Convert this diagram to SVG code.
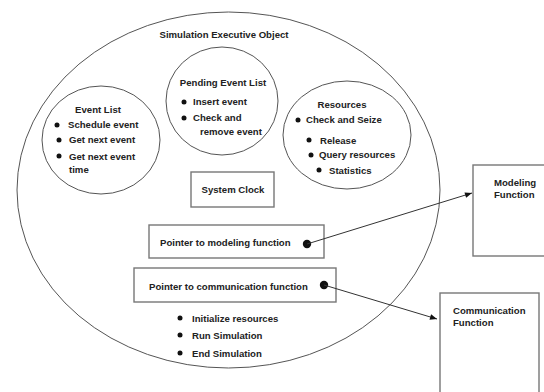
<svg xmlns="http://www.w3.org/2000/svg" width="544" height="392" viewBox="0 0 544 392">
<defs>
<style>
text{font-family:"Liberation Sans",Arial,sans-serif;font-size:9.6px;font-weight:bold;fill:#222}
.c{text-anchor:middle}
.sh{fill:none;stroke:#555;stroke-width:1}
.bx{fill:#fff;stroke:#777;stroke-width:1.4}
.dot{fill:#111}
.ln{stroke:#333;stroke-width:1;fill:none}
</style>
<marker id="ah" viewBox="0 0 10 10" refX="10" refY="5" markerWidth="9" markerHeight="7" markerUnits="userSpaceOnUse" orient="auto">
<path d="M0,1 L10,5 L0,9 z" fill="#111"/>
</marker>
</defs>
<rect width="544" height="392" fill="#fff"/>
<g id="sim-exec">
<ellipse class="sh" cx="228.5" cy="190" rx="211.5" ry="178"/>
<text class="c" x="224" y="38">Simulation Executive Object</text>
</g>
<g id="event-list">
<ellipse class="sh" cx="101" cy="140" rx="59" ry="54"/>
<text class="c" x="98" y="113">Event List</text>
<circle class="dot" cx="57" cy="125" r="2.5"/><text x="68" y="128">Schedule event</text>
<circle class="dot" cx="59" cy="140" r="2.5"/><text x="69" y="143">Get next event</text>
<circle class="dot" cx="59" cy="156" r="2.5"/><text x="69" y="160">Get next event</text>
<text x="69" y="173">time</text>
</g>
<g id="pending-event-list">
<ellipse class="sh" cx="222" cy="101" rx="56" ry="54"/>
<text class="c" x="223" y="86">Pending Event List</text>
<circle class="dot" cx="184" cy="102" r="2.5"/><text x="193" y="105">Insert event</text>
<circle class="dot" cx="184" cy="118" r="2.5"/><text x="193" y="121">Check and</text>
<text x="200" y="135">remove event</text>
</g>
<g id="resources">
<ellipse class="sh" cx="347" cy="135" rx="64" ry="54"/>
<text class="c" x="342" y="108">Resources</text>
<circle class="dot" cx="298" cy="120" r="2.5"/><text x="306" y="123">Check and Seize</text>
<circle class="dot" cx="309" cy="140" r="2.5"/><text x="320" y="144">Release</text>
<circle class="dot" cx="311" cy="155" r="2.5"/><text x="319" y="158">Query resources</text>
<circle class="dot" cx="319" cy="170" r="2.5"/><text x="329" y="174">Statistics</text>
</g>
<g id="system-clock">
<rect class="bx" x="191" y="172" width="83" height="35"/>
<text class="c" x="233" y="193">System Clock</text>
</g>
<g id="ptr-modeling">
<rect class="bx" x="149" y="225" width="175" height="33"/>
<text x="160" y="246">Pointer to modeling function</text>
<circle class="dot" cx="307" cy="244" r="4.2"/>
</g>
<g id="ptr-communication">
<rect class="bx" x="134" y="268" width="202" height="34"/>
<text x="149" y="290">Pointer to communication function</text>
<circle class="dot" cx="324" cy="285" r="4.2"/>
</g>
<g id="actions">
<circle class="dot" cx="180" cy="318" r="2.5"/><text x="192" y="322">Initialize resources</text>
<circle class="dot" cx="180" cy="335" r="2.5"/><text x="192" y="339">Run Simulation</text>
<circle class="dot" cx="180" cy="353" r="2.5"/><text x="192" y="357">End Simulation</text>
</g>
<g id="modeling-function">
<rect class="bx" x="473" y="165" width="80" height="91"/>
<text x="494" y="186">Modeling</text>
<text x="494" y="198">Function</text>
</g>
<g id="communication-function">
<rect class="bx" x="440" y="293" width="99" height="110"/>
<text x="453" y="314">Communication</text>
<text x="453" y="326">Function</text>
</g>
<g id="connectors">
<line class="ln" x1="307" y1="244" x2="472" y2="193" marker-end="url(#ah)"/>
<line class="ln" x1="324" y1="285" x2="437" y2="319" marker-end="url(#ah)"/>
</g>
</svg>
